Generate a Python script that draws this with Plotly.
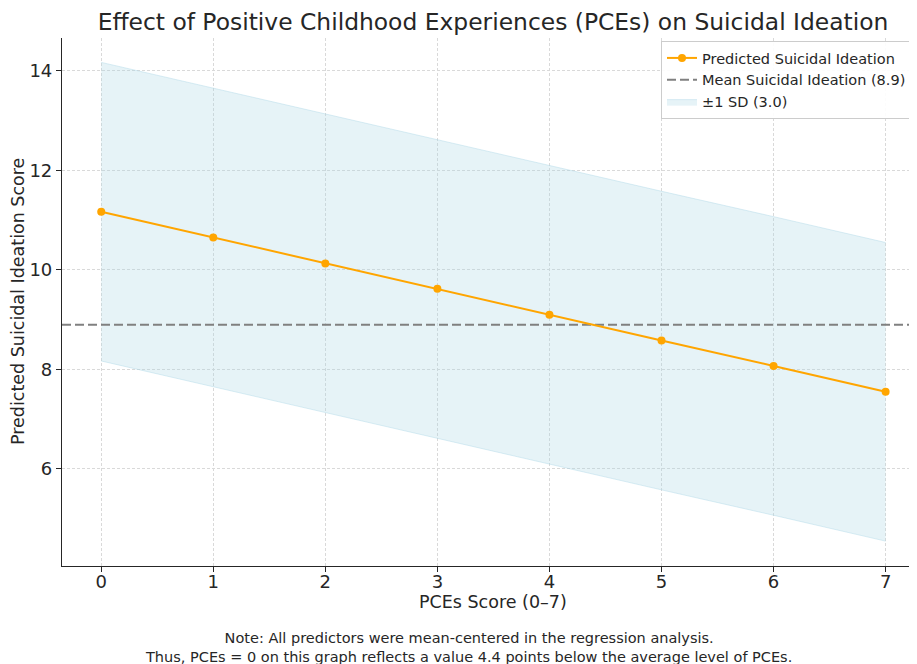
import plotly.graph_objects as go

pces = [0, 1, 2, 3, 4, 5, 6, 7]
predicted = [11.17, 10.65, 10.13, 9.62, 9.10, 8.58, 8.07, 7.55]
sd = 3.0
mean_si = 8.9
x_range = [-0.35, 7.28]
y_range = [4.05, 14.66]
x_ticks = [0, 1, 2, 3, 4, 5, 6, 7]
y_ticks = [6, 8, 10, 12, 14]

upper = [p + sd for p in predicted]
lower = [p - sd for p in predicted]

FONT = "DejaVu Sans"
TXT = "#262626"

# page is offset by the 8px default body margin; figure coords = page - 8
W, H = 909, 656
L, T, B = 54, 30, 98
PW = W - L
PH = H - T - B

fig = go.Figure()
band_line = dict(color="rgba(173,216,230,0.45)", width=1)
fig.add_trace(go.Scatter(x=pces, y=lower, mode="lines", line=band_line,
                         showlegend=False, hoverinfo="skip"))
fig.add_trace(go.Scatter(x=pces, y=upper, mode="lines", line=band_line,
                         fill="tonexty", fillcolor="rgba(173,216,230,0.3)",
                         name="±1 SD (3.0)", legendrank=3))
fig.add_trace(go.Scatter(x=x_range, y=[mean_si, mean_si], mode="lines",
                         line=dict(color="#808080", width=2, dash="9px,4px"),
                         name=f"Mean Suicidal Ideation ({mean_si})", legendrank=2))
fig.add_trace(go.Scatter(x=pces, y=predicted, mode="lines+markers",
                         line=dict(color="#FFA500", width=2),
                         marker=dict(color="#FFA500", size=8),
                         name="Predicted Suicidal Ideation", legendrank=1))

axis_common = dict(
    showline=True, linecolor="#262626", linewidth=1.2,
    ticks="outside", ticklen=5, tickcolor="#262626",
    showgrid=True, gridcolor="#d9d9d9", griddash="3px,2px", gridwidth=0.8,
    zeroline=False, mirror=False, automargin=False,
    tickfont=dict(family=FONT, size=18, color=TXT),
)
fig.update_xaxes(range=x_range, tickvals=x_ticks, ticklabelstandoff=-6, **axis_common)
fig.update_yaxes(range=y_range, tickvals=y_ticks, **axis_common)

def px_x(xp):
    return (xp - 8 - L) / PW

def px_y(yp):
    return (H - B - (yp - 8)) / PH

fig.update_layout(
    width=W, height=H,
    margin=dict(l=L, r=0, t=T, b=B, autoexpand=False),
    plot_bgcolor="white", paper_bgcolor="white",
    title=dict(text="Effect of Positive Childhood Experiences (PCEs) on Suicidal Ideation",
               font=dict(family=FONT, size=23.4, color=TXT),
               x=(493 - 8) / W, xanchor="center", y=1 - (22 - 8) / H, yanchor="middle"),
    legend=dict(x=px_x(661), y=px_y(41), xanchor="left", yanchor="top",
                bgcolor="rgba(255,255,255,0.9)", bordercolor="#cccccc", borderwidth=1,
                font=dict(family=FONT, size=14.5, color=TXT), tracegroupgap=0,
                traceorder="normal"),
    showlegend=True,
    annotations=[
        dict(text="PCEs Score (0–7)", xref="paper", yref="paper",
             x=px_x(493), y=px_y(602), xanchor="center", yanchor="middle",
             showarrow=False, font=dict(family=FONT, size=17.5, color=TXT)),
        dict(text="Predicted Suicidal Ideation Score", xref="paper", yref="paper",
             x=px_x(18), y=px_y(302), xanchor="center", yanchor="middle", textangle=-90,
             showarrow=False, font=dict(family=FONT, size=17.5, color=TXT)),
        dict(text="Note: All predictors were mean-centered in the regression analysis.<br>"
                  "Thus, PCEs = 0 on this graph reflects a value 4.4 points below the average level of PCEs.",
             xref="paper", yref="paper", x=px_x(468), y=px_y(647),
             xanchor="center", yanchor="middle", showarrow=False, align="center",
             font=dict(family=FONT, size=14.5, color=TXT)),
    ],
)

fig.write_html("out.html")
